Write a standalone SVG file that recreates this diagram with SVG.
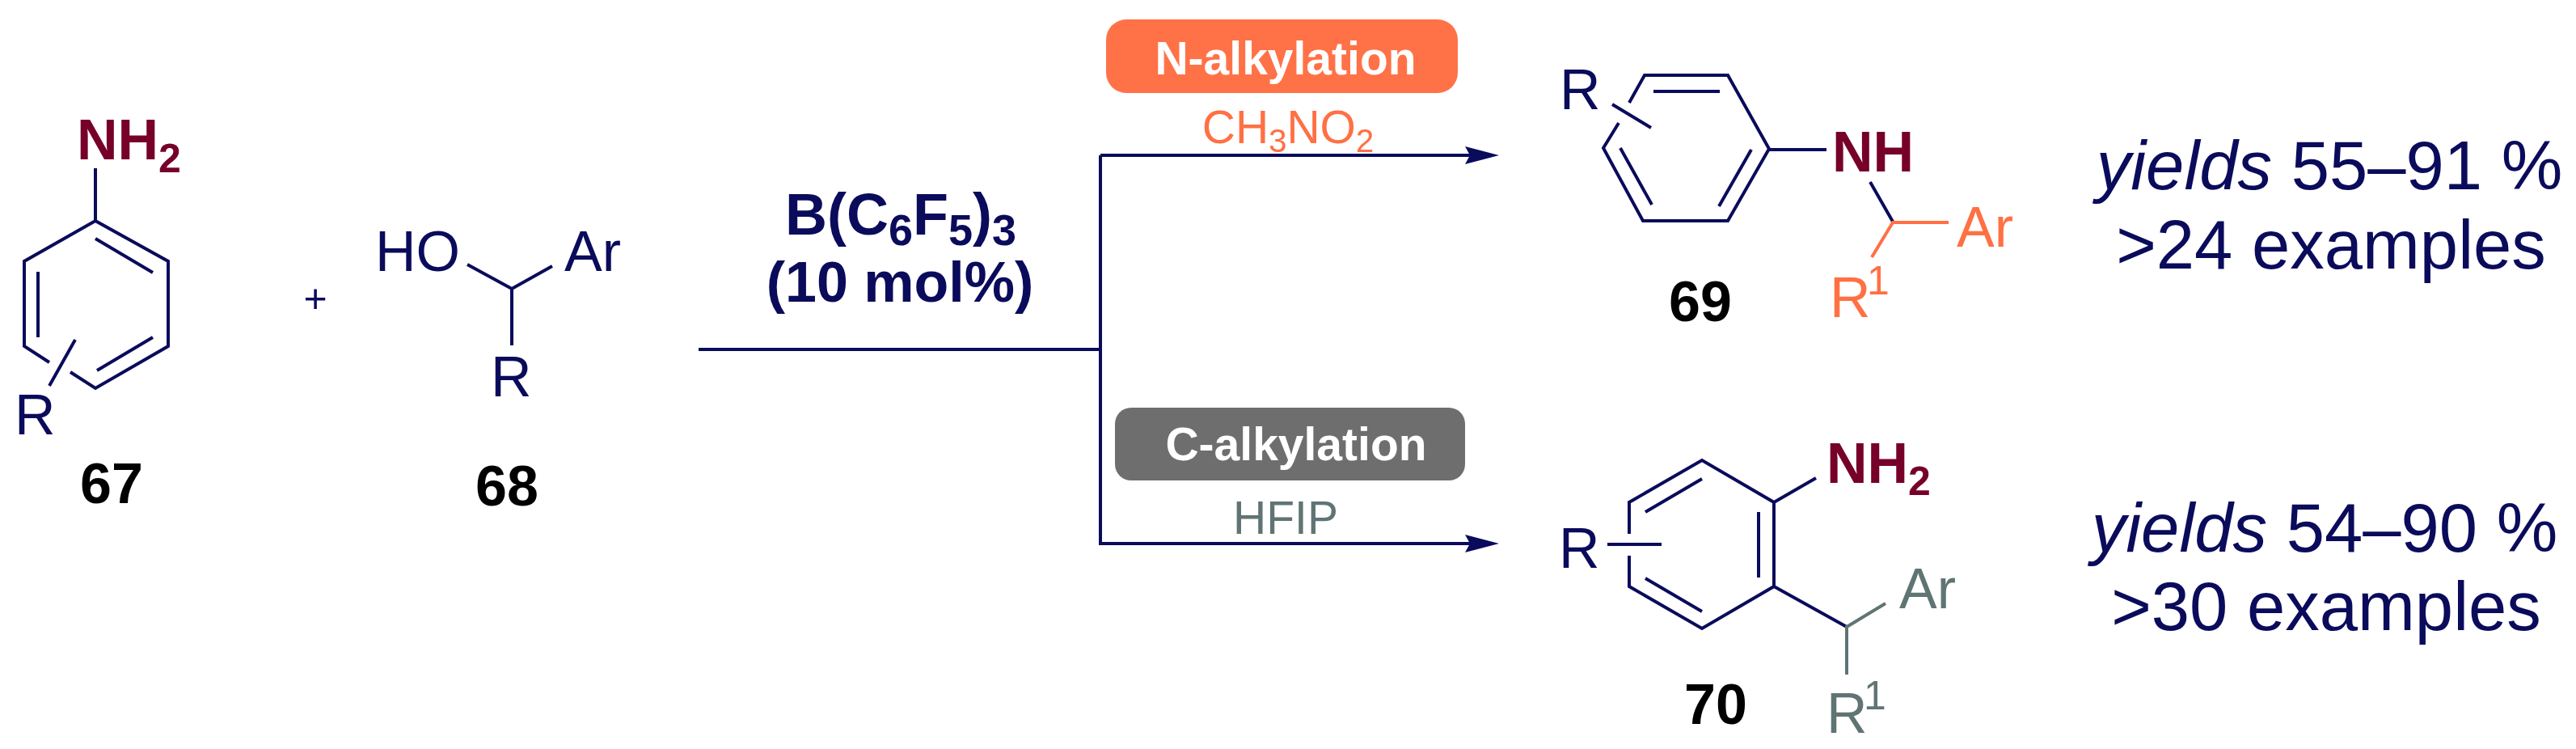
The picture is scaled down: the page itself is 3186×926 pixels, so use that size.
<svg xmlns="http://www.w3.org/2000/svg" width="3186" height="926" viewBox="0 0 3186 926">
<style>
text{font-family:"Liberation Sans",Arial,sans-serif;font-size:70px;fill:#0b0b5c}
.b{font-weight:bold}
.mid{text-anchor:middle}
.blk{fill:#000;font-weight:bold;text-anchor:middle}
.am{fill:#760029;font-weight:bold}
.or{fill:#ff7043}
.gr{fill:#607474}
.wh{fill:#fff;font-weight:bold;font-size:57px;text-anchor:middle}
.ag{font-size:57px;text-anchor:middle}
.res{font-size:85px;text-anchor:middle}
.s72{font-size:72px}
.s50{font-size:50px}
.s54{font-size:54px}
.s40{font-size:40px}
.bond{fill:none;stroke:#0b0b5c;stroke-width:4;stroke-linejoin:miter}
.bo{fill:none;stroke:#ff7043;stroke-width:4}
.bg{fill:none;stroke:#607474;stroke-width:4}
.conn{fill:none;stroke:#0b0b5c;stroke-width:4}
</style>
<defs>
<marker id="ah" markerUnits="userSpaceOnUse" markerWidth="44" markerHeight="24" refX="6" refY="11" orient="auto"><path d="M0,0L42,11L0,22L6,11Z" fill="#0b0b5c"/></marker>
</defs>
<rect width="3186" height="926" fill="#fff"/>
<g id="connectors">
<path class="conn" d="M864,432H1361"/>
<path class="conn" d="M1361,192H1818" marker-end="url(#ah)"/>
<path class="conn" d="M1361,192V672H1818" marker-end="url(#ah)"/>
</g>
<g id="compound-67">
<path class="bond" d="M118,208V273L208,323V428L118,480L87,460M61,448L30,428V323L118,273M118,295L189,337M47,336V417M189,417L120,458M93,420L61,477"/>
<text class="am" x="95" y="197">NH<tspan class="s50" dy="16">2</tspan></text>
<text x="18" y="537">R</text>
<text class="blk" x="138" y="622">67</text>
</g>
<g id="plus"><text class="mid s50" x="390" y="386">+</text></g>
<g id="compound-68">
<path class="bond" d="M578,327L633,357L683,329M633,357V427"/>
<text x="464" y="335">HO</text>
<text x="698" y="335">Ar</text>
<text x="607" y="490">R</text>
<text class="blk" x="627" y="625">68</text>
</g>
<g id="catalyst">
<text class="b mid s72" x="1114" y="290">B(C<tspan class="s54" dy="13">6</tspan><tspan dy="-13">F</tspan><tspan class="s54" dy="13">5</tspan><tspan dy="-13">)</tspan><tspan class="s54" dy="13">3</tspan></text>
<text class="b mid" x="1113" y="373">(10 mol%)</text>
</g>
<g id="n-alkylation">
<rect x="1368" y="24" width="435" height="91" rx="25" ry="25" fill="#ff7247"/>
<text class="wh" x="1590" y="92">N-alkylation</text>
<text class="ag or" x="1593" y="177">CH<tspan class="s40" dy="11">3</tspan><tspan dy="-11">NO</tspan><tspan class="s40" dy="11">2</tspan></text>
</g>
<g id="c-alkylation">
<rect x="1379" y="504" width="433" height="90" rx="20" ry="20" fill="#6e6e6e"/>
<text class="wh" x="1603" y="569">C-alkylation</text>
<text class="ag gr" x="1590" y="660">HFIP</text>
</g>
<g id="compound-69">
<path class="bond" d="M2015,127L2034,93H2137L2188,184L2137,273H2032L1983,183L2002,152M2045,113H2127M2166,185L2126,255M2004,183L2043,253M1994,129L2042,158M2188,185H2259M2313,225L2341,274"/>
<path class="bo" d="M2410,275H2341L2315,318"/>
<text x="1929" y="135">R</text>
<text class="am" x="2266" y="212">NH</text>
<text class="or" x="2420" y="305">Ar</text>
<text class="or" x="2263" y="392">R</text>
<text class="or s50" x="2309" y="364">1</text>
<text class="blk" x="2103" y="397">69</text>
</g>
<g id="compound-70">
<path class="bond" d="M2015,660V621L2105,569L2194,621V725L2105,777L2015,725V687M2105,592L2035,633M2175,633V714M2035,715L2105,756M1988,673H2055M2194,621L2246,591M2194,725L2284,775"/>
<path class="bg" d="M2332,746L2284,775V834"/>
<text x="1928" y="702">R</text>
<text class="am" x="2259" y="597">NH<tspan class="s50" dy="15">2</tspan></text>
<text class="gr" x="2349" y="752">Ar</text>
<text class="gr" x="2259" y="906">R</text>
<text class="gr s50" x="2305" y="877">1</text>
<text class="blk" x="2122" y="895">70</text>
</g>
<g id="result-69">
<text class="res" x="2881" y="234"><tspan font-style="italic">yields</tspan> 55–91 %</text>
<text class="res" x="2883" y="332">&gt;24 examples</text>
</g>
<g id="result-70">
<text class="res" x="2875" y="682"><tspan font-style="italic">yields</tspan> 54–90 %</text>
<text class="res" x="2877" y="779">&gt;30 examples</text>
</g>
</svg>
